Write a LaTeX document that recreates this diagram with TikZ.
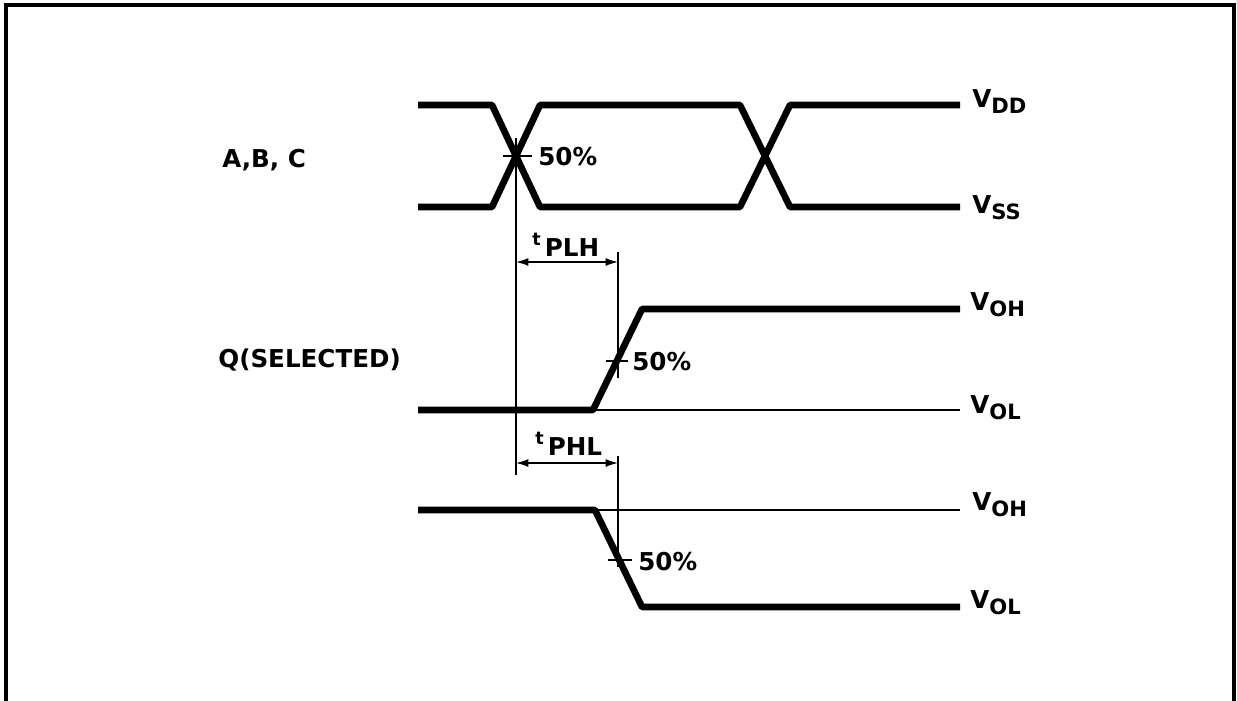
\documentclass[tikz,border=0pt]{standalone}
\usepackage{fontspec}
\setmainfont{DejaVu Sans}
\usetikzlibrary{arrows.meta}

\tikzset{
    wave/.style={line width=3.8pt, line join=round},
    thin level/.style={line width=0.8pt},
    ref line/.style={line width=1.4pt},
    dim line/.style={line width=0.8pt, {Latex[length=7pt,width=4.5pt]}-{Latex[length=7pt,width=4.5pt]}},
    lbl/.style={font=\bfseries\fontsize{14}{16}\selectfont, inner sep=0pt, anchor=west},
}
\newcommand{\levlabel}[2]{#1\raisebox{-0.45ex}{\fontsize{12}{14}\selectfont #2}}
\newcommand{\tlabel}[1]{\raisebox{0.8ex}{\fontsize{10}{12}\selectfont t}\,#1}

\begin{document}
\begin{tikzpicture}[x=0.02cm, y=-0.02cm]

    \useasboundingbox (0,0) rectangle (1237,700);
    \clip (0,0) rectangle (1237,700);
    \draw[line width=2.2pt] (6,5) rectangle (1234,720);

    % input A,B,C
    \draw[wave] (418,105) -- (492,105) -- (540,207) -- (740,207) -- (790,105) -- (960,105);
    \draw[wave] (418,207) -- (492,207) -- (540,105) -- (740,105) -- (790,207) -- (960,207);

    % Q rising
    \draw[wave] (418,410) -- (593,410) -- (642,309) -- (960,309);
    \draw[thin level] (593,410) -- (960,410);

    % Q falling
    \draw[wave] (418,510) -- (595,510) -- (642,607) -- (960,607);
    \draw[thin level] (595,510) -- (960,510);

    \coordinate (in50) at (516,156);
    \coordinate (plh50) at (618,361);
    \coordinate (phl50) at (618,560);

    \draw[ref line] (516,138) -- (516,475);
    \draw[ref line] (618,252) -- (618,378);
    \draw[ref line] (618,456) -- (618,567);

    \draw[ref line] (in50) ++(-13,0) -- ++(29,0);
    \draw[ref line] (plh50) ++(-12,0) -- ++(22,0);
    \draw[ref line] (phl50) ++(-10,0) -- ++(24,0);

    \draw[dim line] (516,262) -- (618,262);
    \draw[dim line] (516,463) -- (618,463);

    \node[lbl] (abc) at (222,160) {A,B, C};
    \node[lbl] (qsel) at (218,360) {Q(SELECTED)};

    \node[lbl] (p1) at (538,157) {50\%};
    \node[lbl] (p2) at (632,362) {50\%};
    \node[lbl] (p3) at (638,562) {50\%};

    \node[lbl] (tplh) at (532,245) {\tlabel{PLH}};
    \node[lbl] (tphl) at (535,444) {\tlabel{PHL}};

    \node[lbl] (vdd) at (972,102) {\levlabel{V}{DD}};
    \node[lbl] (vss) at (972,208) {\levlabel{V}{SS}};
    \node[lbl] (voh1) at (970,305) {\levlabel{V}{OH}};
    \node[lbl] (vol1) at (970,408) {\levlabel{V}{OL}};
    \node[lbl] (voh2) at (972,505) {\levlabel{V}{OH}};
    \node[lbl] (vol2) at (970,603) {\levlabel{V}{OL}};

\end{tikzpicture}
\end{document}
